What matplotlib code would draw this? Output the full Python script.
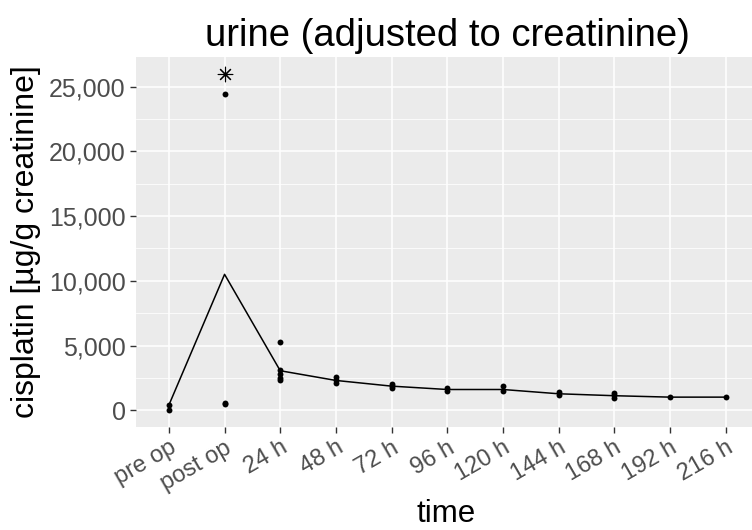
import matplotlib
matplotlib.use("Agg")
import matplotlib.pyplot as plt
from matplotlib.ticker import FuncFormatter, MultipleLocator

plt.rcParams['font.family'] = ['Liberation Sans', 'DejaVu Sans']

# ---- data ----
categories = ["pre op", "post op", "24 h", "48 h", "72 h", "96 h",
              "120 h", "144 h", "168 h", "192 h", "216 h"]
point_values = [
    [400, 40],
    [24400, 500, 520],
    [5300, 3100, 2800, 2500, 2350],
    [2600, 2300, 2100],
    [2050, 1850, 1700],
    [1700, 1450],
    [1850, 1450],
    [1400, 1150],
    [1350, 1150, 950],
    [1010],
    [1010],
]
line_values = [400, 10500, 3050, 2300, 1860, 1600, 1600, 1270, 1120, 1010, 1010]
star_category = "post op"
star_value = 26000
y_ticks = [0, 5000, 10000, 15000, 20000, 25000]

# ---- figure ----
fig = plt.figure(figsize=(7.52, 5.30), dpi=100)
ax = fig.add_axes([0.1802, 0.1943, 0.829, 0.6982])
ax.set_facecolor('#EBEBEB')
for s in ax.spines.values():
    s.set_visible(False)

xpos = list(range(len(categories)))
ax.set_xlim(-0.6, len(categories) - 1 + 0.6)
ax.set_ylim(-1300, 27300)

ax.set_yticks(y_ticks)
ax.yaxis.set_minor_locator(MultipleLocator(2500))
ax.yaxis.set_major_formatter(FuncFormatter(lambda v, p: f"{int(v):,}"))
ax.set_xticks(xpos)
ax.set_xticklabels(categories, rotation=30, ha='right', rotation_mode='anchor')

ax.grid(which='major', color='white', linewidth=1.1)
ax.grid(which='minor', axis='y', color='white', linewidth=0.55)
ax.set_axisbelow(True)
ax.tick_params(axis='both', which='major', length=4, width=1, color='#333333',
               labelcolor='#4D4D4D', pad=3)
ax.tick_params(axis='y', which='major', labelsize=18)
ax.tick_params(axis='x', which='major', labelsize=17)
ax.tick_params(axis='both', which='minor', length=0)

ax.plot(xpos, line_values, color='black', linewidth=1.1, zorder=3)
for x, vals in zip(xpos, point_values):
    ax.scatter([x] * len(vals), vals, s=18, color='black', zorder=4, linewidths=0)
ax.scatter([categories.index(star_category)], [star_value], marker=(8, 2, 0),
           s=110, color='black', linewidths=0.8, zorder=4)

ax.set_title("urine (adjusted to creatinine)", fontsize=27.5, pad=8)
ax.set_ylabel("cisplatin [µg/g creatinine]", fontsize=23, labelpad=6)
fig.text(446.5 / 752, 1.0 / 530, "time", fontsize=22.5, ha='center', va='bottom')

fig.savefig("out.png", dpi=100)
